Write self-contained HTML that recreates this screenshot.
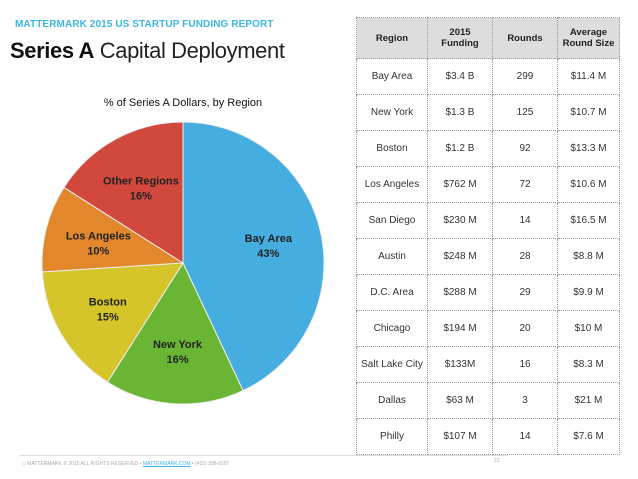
<!DOCTYPE html>
<html><head><meta charset="utf-8"><style>
body{margin:0;width:638px;height:479px;background:#fff;font-family:"Liberation Sans",sans-serif;position:relative;overflow:hidden}
.abs{position:absolute}
table{position:absolute;left:356px;top:17px;border-collapse:collapse;width:264px}
td,th{border:1px dotted #999;text-align:center;font-size:10px;color:#333;padding:0;height:35px;font-weight:normal}
th{background:#ddd;height:40px;font-weight:bold;color:#222;font-size:9.5px}
</style></head><body>
<div class="abs" style="left:15px;top:19px;font-size:10px;font-weight:bold;color:#3db6e3;letter-spacing:.1px">MATTERMARK 2015 US STARTUP FUNDING REPORT</div>
<div class="abs" style="left:10px;top:38px;font-size:22px;color:#111;letter-spacing:-.4px"><b>Series A</b> <span style="font-weight:300;color:#222">Capital Deployment</span></div>
<svg class="abs" style="left:0;top:0" width="350" height="430">
<text x="183" y="106" text-anchor="middle" font-size="11" fill="#111">% of Series A Dollars, by Region</text>
<g id="pie"></g></svg>
<table>
<tr><th style="width:70px">Region</th><th style="width:64px">2015<br>Funding</th><th style="width:64px">Rounds</th><th>Average<br>Round Size</th></tr>
<tr><td>Bay Area</td><td>$3.4 B</td><td>299</td><td>$11.4 M</td></tr>
<tr><td>New York</td><td>$1.3 B</td><td>125</td><td>$10.7 M</td></tr>
<tr><td>Boston</td><td>$1.2 B</td><td>92</td><td>$13.3 M</td></tr>
<tr><td>Los Angeles</td><td>$762 M</td><td>72</td><td>$10.6 M</td></tr>
<tr><td>San Diego</td><td>$230 M</td><td>14</td><td>$16.5 M</td></tr>
<tr><td>Austin</td><td>$248 M</td><td>28</td><td>$8.8 M</td></tr>
<tr><td>D.C. Area</td><td>$288 M</td><td>29</td><td>$9.9 M</td></tr>
<tr><td>Chicago</td><td>$194 M</td><td>20</td><td>$10 M</td></tr>
<tr><td>Salt Lake City</td><td>$133M</td><td>16</td><td>$8.3 M</td></tr>
<tr><td>Dallas</td><td>$63 M</td><td>3</td><td>$21 M</td></tr>
<tr><td>Philly</td><td>$107 M</td><td>14</td><td>$7.6 M</td></tr>
</table>
<div class="abs" style="left:20px;top:455px;width:488px;height:1px;background:#ddd"></div>
<div class="abs" style="left:22px;top:461px;font-size:5px;color:#aaa">◇ MATTERMARK © 2015 ALL RIGHTS RESERVED • <span style="color:#3db6e3;text-decoration:underline">MATTERMARK.COM</span> • (415) 308-6597</div>
<div class="abs" style="left:494px;top:458px;font-size:5px;color:#aaa">21</div>
<script>
const regions=["Bay Area","New York","Boston","Los Angeles","Other Regions"];
const shares=[43,16,15,10,16];
const colors=["#45ade0","#6bb534","#d6c52a","#e2872c","#d2483c"];
const cx=183,cy=263,r=141;
const g=document.getElementById('pie');const ns="http://www.w3.org/2000/svg";
const total=shares.reduce((a,b)=>a+b,0);let a0=0;
shares.forEach((v,i)=>{const a1=a0+v/total*2*Math.PI;
const p=t=>[cx+r*Math.sin(t),cy-r*Math.cos(t)];const [x0,y0]=p(a0),[x1,y1]=p(a1);
const path=document.createElementNS(ns,'path');
path.setAttribute('d',`M${cx},${cy}L${x0},${y0}A${r},${r} 0 ${a1-a0>Math.PI?1:0} 1 ${x1},${y1}Z`);
path.setAttribute('fill',colors[i]);path.setAttribute('stroke','#eee');path.setAttribute('stroke-width','1');


g.appendChild(path);
const m=(a0+a1)/2,lr=r*0.62;const lx=cx+lr*Math.sin(m),ly=cy-lr*Math.cos(m);
const t=document.createElementNS(ns,'text');t.setAttribute('x',lx);t.setAttribute('y',ly-2);
t.setAttribute('text-anchor','middle');t.setAttribute('font-size','11');t.setAttribute('font-weight','bold');t.setAttribute('fill','#222');


t.innerHTML=`<tspan x="${lx}">${regions[i]}</tspan><tspan x="${lx}" dy="15">${v}%</tspan>`;
g.appendChild(t);a0=a1;});
</script>
</body></html>
